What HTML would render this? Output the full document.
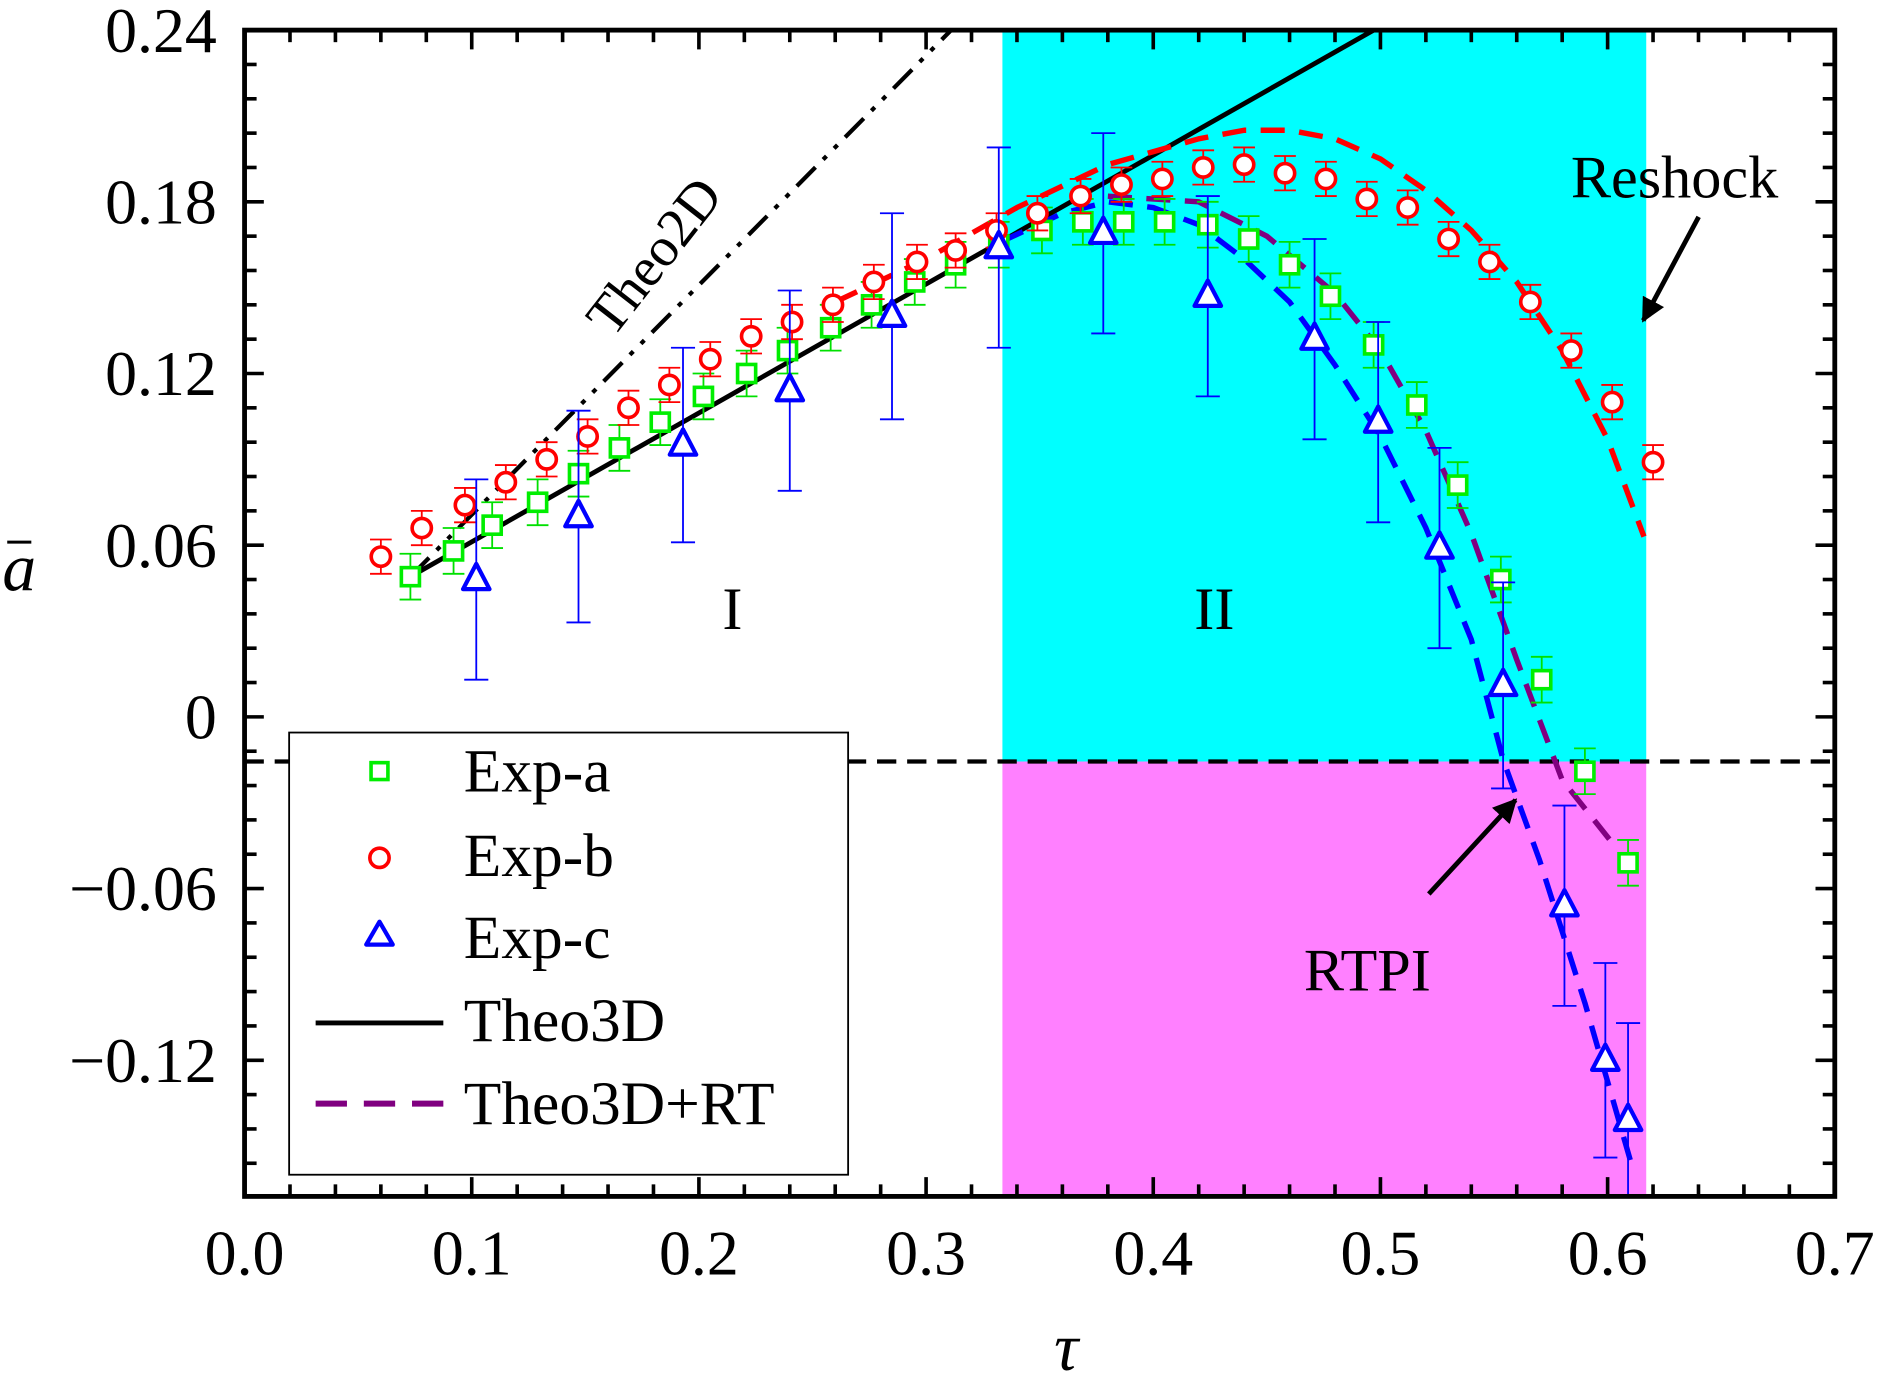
<!DOCTYPE html>
<html><head><meta charset="utf-8"><style>
html,body{margin:0;padding:0;background:#fff;}
svg{display:block;}
text{font-family:"Liberation Serif",serif;fill:#000;}
</style></head><body>
<svg id="chart" width="1889" height="1394" viewBox="0 0 1568 1157" preserveAspectRatio="none" xmlns="http://www.w3.org/2000/svg">
<g id="bg"></g>
<g id="lines"></g>
<g id="pts"></g>
<g id="axes"></g>
<g id="ann"></g>
</svg>
<script>
const expA_t=[.073,.092,.109,.129,.147,.165,.183,.202,.221,.239,.258,.276,.295,.313,.332,.351,.369,.387,.405,.424,.442,.460,.478,.497,.516,.534,.553,.571,.590,.609];
const expA_a=[.049,.058,.067,.075,.085,.094,.103,.112,.120,.128,.136,.144,.152,.158,.165,.170,.173,.173,.173,.172,.167,.158,.147,.130,.109,.081,.048,.013,-.019,-.051];
const expB_t=[.060,.078,.097,.115,.133,.151,.169,.187,.205,.223,.241,.259,.277,.296,.313,.331,.349,.368,.386,.404,.422,.440,.458,.476,.494,.512,.530,.548,.566,.584,.602,.620];
const expB_a=[.056,.066,.074,.082,.090,.098,.108,.116,.125,.133,.138,.144,.152,.159,.163,.170,.176,.182,.186,.188,.192,.193,.190,.188,.181,.178,.167,.159,.145,.128,.110,.089];
const expC_t=[.102,.147,.193,.240,.285,.332,.378,.424,.471,.499,.526,.554,.581,.599,.609];
const expC_a=[.048,.070,.095,.114,.140,.164,.169,.147,.132,.103,.059,.011,-.066,-.120,-.141];
const expC_err=[.035,.037,.034,.035,.036,.035,.035,.035,.035,.035,.035,.036,.035,.034,.034];
const theo3D_t=[.073,.497];
const theo3D_a=[.049,.240];
const theo2D_t=[.073,.311];
const theo2D_a=[.049,.240];
const redD_t=[.26,.30,.34,.38,.42,.44,.46,.48,.50,.52,.54,.56,.58,.60,.616];
const redD_a=[.145,.160,.178,.193,.202,.205,.205,.202,.195,.184,.170,.152,.128,.097,.063];
const blueD_t=[.333,.36,.38,.40,.42,.44,.46,.48,.50,.52,.54,.554,.57,.59,.61];
const blueD_a=[.166,.176,.180,.178,.172,.160,.145,.123,.098,.066,.027,-.015,-.05,-.10,-.155];
const purD_t=[.38,.42,.45,.48,.50,.52,.54,.56,.58,.603];
const purD_a=[.182,.180,.168,.148,.128,.100,.064,.020,-.022,-.045];
const xTicks=[0,0.1,0.2,0.3,0.4,0.5,0.6,0.7];
const xTickLabels=["0.0","0.1","0.2","0.3","0.4","0.5","0.6","0.7"];
const yTicks=[0.24,0.18,0.12,0.06,0,-0.06,-0.12];
const yTickLabels=["0.24","0.18","0.12","0.06","0","\u22120.06","\u22120.12"];

const L=203,R=1523,T=25,B=993;
const X=t=>L+t*(R-L)/0.7;
const Y=a=>T+(0.24-a)*2375;
const NS="http://www.w3.org/2000/svg";
function mk(tag,attrs,parent){const e=document.createElementNS(NS,tag);for(const k in attrs)e.setAttribute(k,attrs[k]);parent.appendChild(e);return e;}
const bg=document.getElementById('bg'),lines=document.getElementById('lines'),pts=document.getElementById('pts'),axes=document.getElementById('axes');

let r=mk('rect',{x:X(0.3336),y:T,width:X(0.617)-X(0.3336),height:Y(-0.0156)-T,fill:'#00ffff'},bg);


r=mk('rect',{x:X(0.3336),y:Y(-0.0156),width:X(0.617)-X(0.3336),height:B-Y(-0.0156),fill:'#ff80ff'},bg);


let hl=mk('line',{x1:L,x2:R,y1:Y(-0.0156),y2:Y(-0.0156),stroke:'#000','stroke-width':3.5,'stroke-dasharray':'16 9'},bg);



function poly(ts,as,attrs,name){const d=ts.map((t,i)=>(i?'L':'M')+X(t).toFixed(1)+','+Y(as[i]).toFixed(1)).join(' ');const p=mk('path',Object.assign({d:d,fill:'none','stroke-linejoin':'round'},attrs),lines);}
const clip=mk('clipPath',{id:'pc'},document.getElementById('chart'));mk('rect',{x:L,y:T,width:R-L,height:B-T},clip);
lines.setAttribute('clip-path','url(#pc)');pts.setAttribute('clip-path','url(#pc)');
poly(theo2D_t,theo2D_a,{stroke:'#000','stroke-width':3.5,'stroke-dasharray':'22 9 4 9 4 9'},'theo2d-line');
poly(theo3D_t,theo3D_a,{stroke:'#000','stroke-width':4},'theo3d-line');
poly(redD_t,redD_a,{stroke:'#ff0000','stroke-width':4.5,'stroke-dasharray':'20 12'},'exp-b-fit-line');
poly(purD_t,purD_a,{stroke:'#800080','stroke-width':4.5,'stroke-dasharray':'20 12'},'theo3d-rt-line');
poly(blueD_t,blueD_a,{stroke:'#0000ff','stroke-width':4.5,'stroke-dasharray':'20 12'},'exp-c-fit-line');

function err(x,y1,y2,col,w){mk('line',{x1:x,x2:x,y1:y1,y2:y2,stroke:col,'stroke-width':1.5},pts);mk('line',{x1:x-w,x2:x+w,y1:y1,y2:y1,stroke:col,'stroke-width':1.5},pts);mk('line',{x1:x-w,x2:x+w,y1:y2,y2:y2,stroke:col,'stroke-width':1.5},pts);}
expA_t.forEach((t,i)=>{const x=X(t),y=Y(expA_a[i]);err(x,Y(expA_a[i]+0.008),Y(expA_a[i]-0.008),'#00e000',9);
 const s=mk('rect',{x:x-7.5,y:y-7.5,width:15,height:15,fill:'#fff',stroke:'#00ee00','stroke-width':3},pts);
 
 });
expB_t.forEach((t,i)=>{const x=X(t),y=Y(expB_a[i]);err(x,Y(expB_a[i]+0.006),Y(expB_a[i]-0.006),'#ff0000',9);
 const c=mk('circle',{cx:x,cy:y,r:8,fill:'#fff',stroke:'#ff0000','stroke-width':3},pts);
 
 });
expC_t.forEach((t,i)=>{const x=X(t),y=Y(expC_a[i]);err(x,Y(expC_a[i]+expC_err[i]),Y(expC_a[i]-expC_err[i]),'#0000ff',10);
 const p=mk('polygon',{points:`${x},${y-13} ${x-11},${y+8} ${x+11},${y+8}`,fill:'#fff',stroke:'#0000ff','stroke-width':3.5,'stroke-linejoin':'round'},pts);
 
 });

const fr=mk('rect',{x:L,y:T,width:R-L,height:B-T,fill:'none',stroke:'#000','stroke-width':4},axes);


for(let k=0;k<=35;k++){const t=k*0.02,x=X(t),len=(k%5===0)?16:10;
 mk('line',{x1:x,x2:x,y1:B,y2:B-len,stroke:'#000','stroke-width':3},axes);
 mk('line',{x1:x,x2:x,y1:T,y2:T+len,stroke:'#000','stroke-width':3},axes);}
for(let k=0;k<=34;k++){const a=0.24-k*0.012,y=Y(a);if(y>B)break;const len=(k%5===0)?16:10;
 mk('line',{x1:L,x2:L+len,y1:y,y2:y,stroke:'#000','stroke-width':3},axes);
 mk('line',{x1:R,x2:R-len,y1:y,y2:y,stroke:'#000','stroke-width':3},axes);}
xTicks.forEach((t,i)=>{const e=mk('text',{x:X(t),y:1058,'font-size':53,'text-anchor':'middle'},axes);e.textContent=xTickLabels[i];
 
 });
yTicks.forEach((a,i)=>{const e=mk('text',{x:180,y:Y(a)+18,'font-size':53,'text-anchor':'end'},axes);e.textContent=yTickLabels[i];
 
 });
</script>
<svg style="position:absolute;left:0;top:0" width="1889" height="1394" viewBox="0 0 1568 1157" preserveAspectRatio="none" xmlns="http://www.w3.org/2000/svg">
<defs><marker id="ah" viewBox="0 0 10 10" refX="9" refY="5" markerWidth="5" markerHeight="5" orient="auto"><path d="M0,0 L10,5 L0,10 z" fill="#000"/></marker></defs>
<text x="885" y="1137" font-size="56" font-style="italic" text-anchor="middle" font-family="Liberation Serif,serif">τ</text>
<text x="16" y="490" font-size="56" font-style="italic" text-anchor="middle" font-family="Liberation Serif,serif">a</text>
<line x1="6" y1="450" x2="26" y2="450" stroke="#000" stroke-width="2.5"/>
<text x="608" y="522" font-size="50" text-anchor="middle" font-family="Liberation Serif,serif">I</text>
<text x="1008" y="522" font-size="50" text-anchor="middle" font-family="Liberation Serif,serif">II</text>
<text x="1135" y="822" font-size="50" text-anchor="middle" font-family="Liberation Serif,serif">RTPI</text>
<text x="1390" y="164" font-size="50" text-anchor="middle" font-family="Liberation Serif,serif">Reshock</text>
<text x="0" y="0" font-size="46" text-anchor="middle" font-family="Liberation Serif,serif" transform="translate(555,222) rotate(-52)">Theo2D</text>
<line x1="1410" y1="180" x2="1364" y2="266" stroke="#000" stroke-width="4" marker-end="url(#ah)"/>
<line x1="1186" y1="742" x2="1258" y2="664" stroke="#000" stroke-width="4" marker-end="url(#ah)"/>
<g>
<rect x="240" y="608" width="464" height="367" fill="#fff" stroke="#000" stroke-width="1.5"/>
<rect x="308" y="633" width="14" height="14" fill="#fff" stroke="#00ee00" stroke-width="3"/>
<text x="385" y="657" font-size="51" font-family="Liberation Serif,serif">Exp-a</text>
<circle cx="315" cy="712" r="8" fill="#fff" stroke="#ff0000" stroke-width="3"/>
<text x="385" y="727" font-size="51" font-family="Liberation Serif,serif">Exp-b</text>
<polygon points="315,765 304,784 326,784" fill="#fff" stroke="#0000ff" stroke-width="3.5" stroke-linejoin="round"/>
<text x="385" y="795" font-size="51" font-family="Liberation Serif,serif">Exp-c</text>
<line x1="262" y1="849" x2="368" y2="849" stroke="#000" stroke-width="4"/>
<text x="385" y="864" font-size="51" font-family="Liberation Serif,serif">Theo3D</text>
<line x1="262" y1="916" x2="368" y2="916" stroke="#800080" stroke-width="5" stroke-dasharray="26 14"/>
<text x="385" y="933" font-size="51" font-family="Liberation Serif,serif">Theo3D+RT</text>
</g>
</svg>
</body></html>
